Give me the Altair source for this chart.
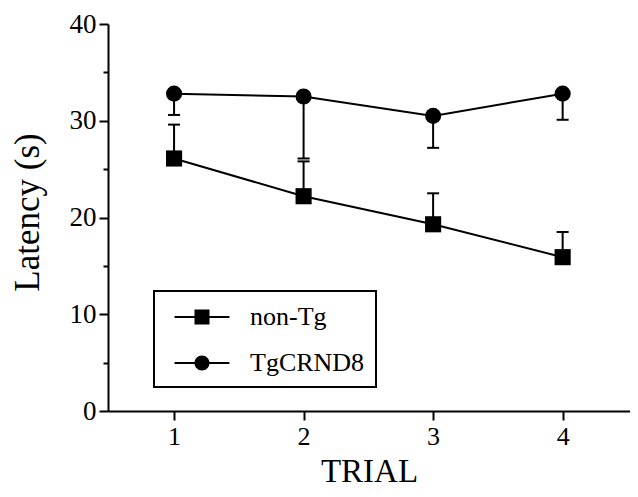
import altair as alt
import pandas as pd

trials = [1, 2, 3, 4]
series_names = ["non-Tg", "TgCRND8"]
nontg_mean = [26.1, 22.2, 19.3, 15.9]
nontg_se = [3.5, 3.6, 3.2, 2.6]
tg_mean = [32.8, 32.5, 30.5, 32.8]
tg_se = [2.2, 6.4, 3.3, 2.7]

y_major = [0, 10, 20, 30, 40]
y_minor = [5, 15, 25, 35]

rows = []
for t, m, s in zip(trials, nontg_mean, nontg_se):
    rows.append({"trial": t, "series": "non-Tg", "mean": m, "end": m + s})
for t, m, s in zip(trials, tg_mean, tg_se):
    rows.append({"trial": t, "series": "TgCRND8", "mean": m, "end": m - s})
df = pd.DataFrame(rows)

FONT = "Liberation Serif"
xs = alt.Scale(domain=[0.49, 4.52], nice=False, zero=False)
ys = alt.Scale(domain=[0, 40], nice=False)

x_axis = alt.Axis(values=trials, title="TRIAL", tickSize=9, tickWidth=2, domainWidth=2,
                  labelFontSize=26, labelPadding=3, titleFontSize=33, titleFontWeight="normal",
                  titlePadding=6, grid=False, labelFont=FONT, titleFont=FONT,
                  domainColor="black", tickColor="black", labelColor="black", titleColor="black")
y_axis = alt.Axis(values=y_major, title="Latency (s)", tickSize=9, tickWidth=2, domainWidth=2,
                  labelFontSize=27, labelPadding=3, titleFontSize=35, titleFontWeight="normal",
                  titlePadding=24, titleY=188, grid=False, labelFont=FONT, titleFont=FONT,
                  orient="left",
                  domainColor="black", tickColor="black", labelColor="black", titleColor="black")
y_minor_axis = alt.Axis(values=y_minor, title=None, tickSize=5, tickWidth=2, labels=False,
                        domain=False, grid=False, orient="left", tickColor="black")

base = alt.Chart(df)
X = alt.X("trial:Q", scale=xs, axis=x_axis)

lines = base.mark_line(color="black", strokeWidth=2).encode(
    x=X,
    y=alt.Y("mean:Q", scale=ys, axis=y_axis),
    detail="series:N",
)

err = base.mark_rule(color="black", strokeWidth=2).encode(
    x=X,
    y=alt.Y("mean:Q", scale=ys, axis=None),
    y2="end:Q",
)

caps = base.mark_point(shape="stroke", size=144, strokeWidth=2, filled=False,
                       color="black", opacity=1).encode(
    x=X,
    y=alt.Y("end:Q", scale=ys, axis=None),
)

points = base.mark_point(filled=True, color="black", size=260, opacity=1).encode(
    x=X,
    y=alt.Y("mean:Q", scale=ys, axis=None),
    shape=alt.Shape("series:N", scale=alt.Scale(domain=series_names, range=["square", "circle"]),
                    legend=None),
)

# legend glyphs: a thin filled bar through a square / circle (unit box -1..1)
sq_path = "M-1.83,-0.067H1.83V0.067H-1.83ZM-0.5,-0.5H0.5V0.5H-0.5Z"
ci_path = "M-1.83,-0.067H1.83V0.067H-1.83ZM0.5,0A0.5,0.5,0,1,1,-0.5,0A0.5,0.5,0,1,1,0.5,0Z"

legend = alt.Legend(
    title=None, orient="none", legendX=46, legendY=267,
    padding=11, strokeColor="black", symbolSize=900, symbolOffset=22,
    labelOffset=33, rowPadding=18, labelFontSize=26, labelFont=FONT, labelColor="black",
    symbolStrokeWidth=0, symbolFillColor="black",
    symbolOpacity=1, labelLimit=300,
)

ghost = base.mark_point(filled=True, color="black", size=900, opacity=1).encode(
    x=X,
    y=alt.Y("mean:Q", scale=ys, axis=y_minor_axis),
    shape=alt.Shape("series:N", scale=alt.Scale(domain=series_names, range=[sq_path, ci_path]),
                    legend=legend),
).transform_filter("false")

chart = alt.layer(lines, err, caps, points, ghost).resolve_scale(
    shape="independent"
).resolve_axis(y="independent").properties(
    width=522, height=387,
    autosize=alt.AutoSizeParams(type="none"),
    padding={"left": 100, "top": 16, "right": 0, "bottom": 78},
    background="white",
).configure_view(stroke=None).configure_legend(strokeWidth=2)

chart.save("out.html", embed_options={"renderer": "svg", "actions": False})
